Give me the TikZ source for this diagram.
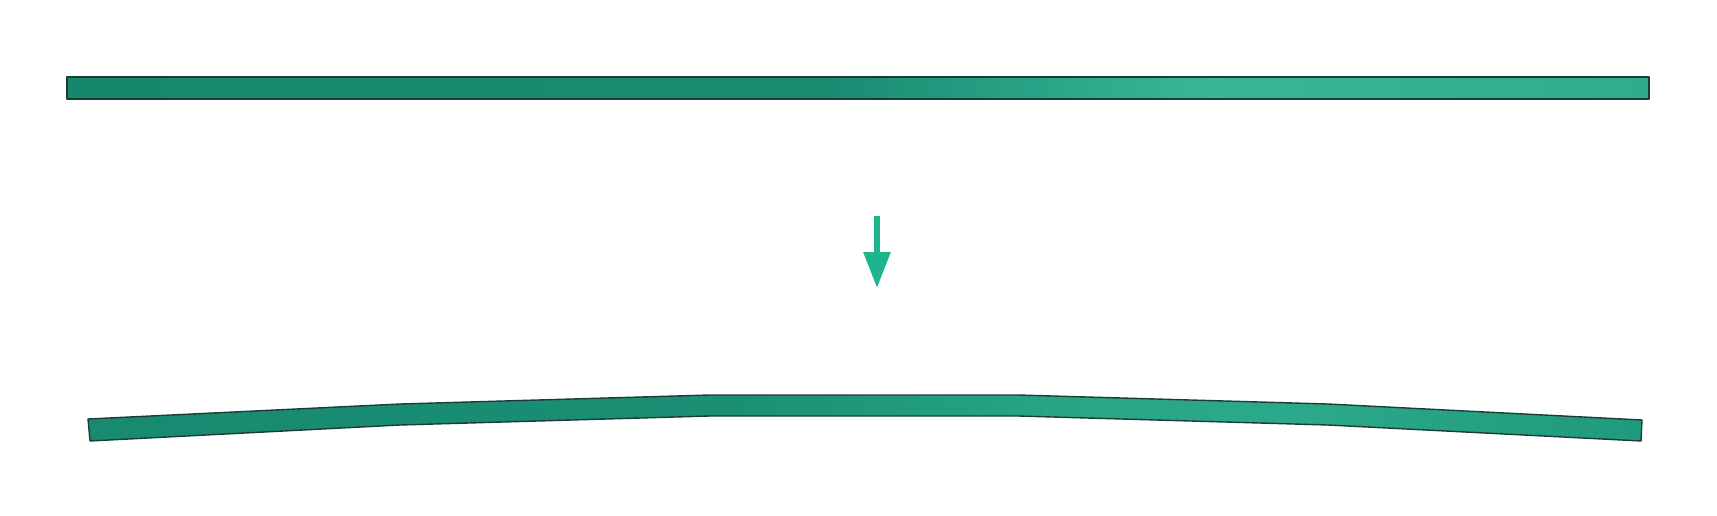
\documentclass[tikz,border=0pt]{standalone}
\usetikzlibrary{arrows.meta}
\definecolor{tA}{HTML}{15876D}
\definecolor{tB}{HTML}{188B71}
\definecolor{tC}{HTML}{37B798}
\definecolor{tD}{HTML}{2FAC8D}
\definecolor{bA}{HTML}{178A70}
\definecolor{bB}{HTML}{1A8F74}
\definecolor{bC}{HTML}{27A585}
\definecolor{bD}{HTML}{2BA989}
\definecolor{bE}{HTML}{1F9A7C}
\definecolor{edge}{HTML}{1F3B36}
\definecolor{arrowc}{HTML}{1DB48E}
\pgfdeclarehorizontalshading{topbarshade}{100bp}{color(0bp)=(tA); color(25bp)=(tA); color(49bp)=(tB); color(61bp)=(tC); color(75bp)=(tD); color(100bp)=(tD)}
\pgfdeclarehorizontalshading{botbarshade}{100bp}{color(0bp)=(bA); color(25bp)=(bA); color(46bp)=(bB); color(56bp)=(bC); color(64bp)=(bD); color(75bp)=(bE); color(100bp)=(bE)}
\tikzset{
  bar/.style={draw=edge, line width=1.4pt, line join=round},
  flowarrow/.style={draw=arrowc, line width=6pt, -{Triangle[width=26pt 0 0, length=36pt 0 0, fill=arrowc]}}
}
\begin{document}
\begin{tikzpicture}[x=1pt,y=-1pt]
\useasboundingbox (0,0) rectangle (1717,516);
% straight bar
\path[bar, shading=topbarshade] (67,77) rectangle (1649,99);
% arrow
\coordinate (arrS) at (877,216);
\coordinate (arrE) at (877,288);
\draw[flowarrow] (arrS) -- (arrE);
% bent bar
\path[bar, shading=botbarshade]
  (88,419) -- (400,404) -- (710,395) -- (1018,395) -- (1328,404) -- (1642,420)
  -- (1641,441) -- (1328,425) -- (1018,416) -- (710,416) -- (400,425) -- (90,441) -- cycle;
\end{tikzpicture}
\end{document}
